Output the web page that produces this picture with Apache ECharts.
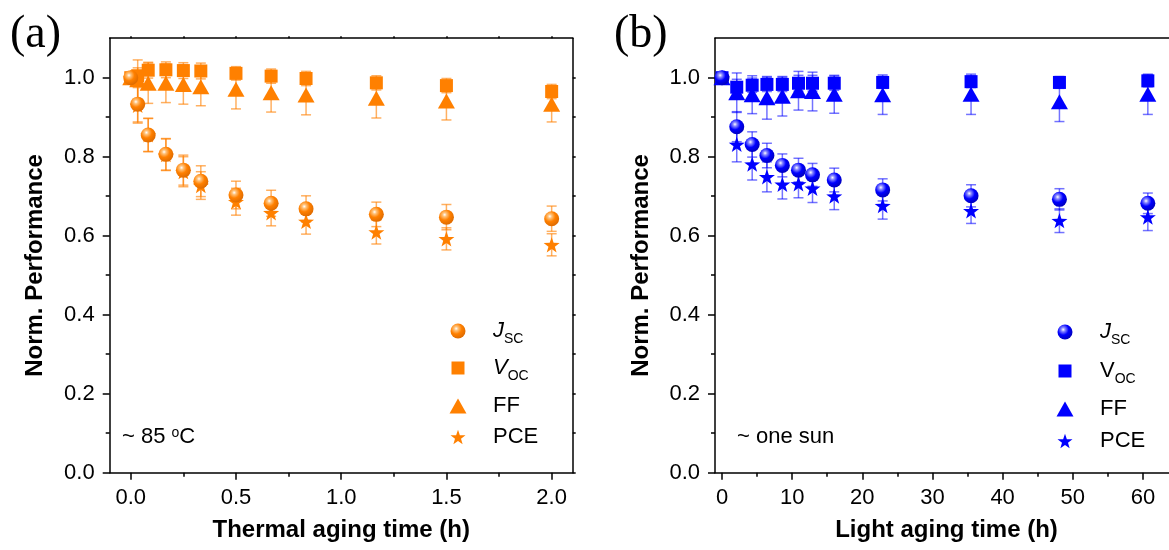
<!DOCTYPE html>
<html><head><meta charset="utf-8">
<script src="https://cdn.jsdelivr.net/npm/echarts@6/dist/echarts.min.js"></script>
<style>html,body{margin:0;padding:0;background:#fff}#c{width:1169px;height:550px}</style>
</head><body><div id="c"></div>
<script>
// ---------------- data ----------------
const thermalTime = [0, 0.033, 0.083, 0.167, 0.25, 0.333, 0.5, 0.667, 0.833, 1.167, 1.5, 2.0];
const thermalJsc = [1.0, 0.933, 0.855, 0.806, 0.766, 0.738, 0.703, 0.682, 0.668, 0.654, 0.647, 0.643];
const thermalJscErr = [0, 0.045, 0.042, 0.040, 0.038, 0.039, 0.035, 0.033, 0.033, 0.031, 0.032, 0.032];
const thermalVoc = [1.0, 1.005, 1.019, 1.020, 1.018, 1.017, 1.011, 1.004, 0.998, 0.987, 0.980, 0.965];
const thermalVocErr = [0, 0.02, 0.02, 0.02, 0.02, 0.02, 0.017, 0.018, 0.018, 0.018, 0.018, 0.018];
const thermalFF = [1.0, 0.995, 0.986, 0.986, 0.983, 0.977, 0.971, 0.962, 0.956, 0.948, 0.941, 0.933];
const thermalFFErr = [0, 0.05, 0.051, 0.049, 0.05, 0.048, 0.05, 0.049, 0.05, 0.05, 0.048, 0.045];
const thermalPCE = [1.0, 0.930, 0.855, 0.805, 0.762, 0.727, 0.686, 0.658, 0.636, 0.609, 0.592, 0.577];
const thermalPCEErr = [0, 0.045, 0.042, 0.040, 0.038, 0.035, 0.034, 0.033, 0.032, 0.030, 0.028, 0.028];

const lightTime = [0, 2.1, 4.3, 6.4, 8.6, 10.9, 12.9, 16, 22.9, 35.5, 48.1, 60.7];
const lightJsc = [1.0, 0.876, 0.831, 0.803, 0.778, 0.766, 0.754, 0.741, 0.716, 0.701, 0.692, 0.682];
const lightJscErr = [0, 0.038, 0.032, 0.031, 0.029, 0.030, 0.029, 0.030, 0.028, 0.028, 0.027, 0.026];
const lightVoc = [1.0, 0.976, 0.981, 0.983, 0.983, 0.986, 0.986, 0.986, 0.988, 0.990, 0.988, 0.992];
const lightVocErr = [0, 0.02, 0.018, 0.018, 0.018, 0.02, 0.02, 0.018, 0.015, 0.015, 0.015, 0.015];
const lightFF = [1.0, 0.962, 0.957, 0.949, 0.953, 0.967, 0.965, 0.958, 0.957, 0.958, 0.939, 0.958];
const lightFFErr = [0, 0.05, 0.048, 0.054, 0.05, 0.049, 0.049, 0.048, 0.05, 0.051, 0.05, 0.051];
const lightPCE = [1.0, 0.831, 0.781, 0.749, 0.730, 0.731, 0.720, 0.700, 0.676, 0.663, 0.638, 0.647];
const lightPCEErr = [0, 0.044, 0.040, 0.038, 0.037, 0.035, 0.036, 0.034, 0.034, 0.032, 0.030, 0.034];

const thermalXTicks = [0, 0.5, 1.0, 1.5, 2.0];
const thermalXMinor = [0.25, 0.75, 1.25, 1.75];
const thermalXTop = [0, 0.25, 0.5, 0.75, 1.0, 1.25, 1.5, 1.75, 2.0];
const lightXTicks = [0, 10, 20, 30, 40, 50, 60];
const lightXMinor = [5, 15, 25, 35, 45, 55];
const yTicks = [0, 0.2, 0.4, 0.6, 0.8, 1.0];
const yMinor = [0.1, 0.3, 0.5, 0.7, 0.9];
const yRightTicks = [0, 0.1, 0.2, 0.3, 0.4, 0.5, 0.6, 0.7, 0.8, 0.9, 1.0];

// ---------------- styles ----------------
const FONT = '"Liberation Sans", Arial, sans-serif';
const ORANGE = '#FF8000', ORANGE_ERR = 'rgba(255,128,0,0.62)';
const BLUE = '#0000FF', BLUE_ERR = 'rgba(0,0,255,0.55)';
const STAR = 'path://M50 0 L61.76 33.82 L97.55 34.55 L69.02 56.18 L79.39 90.45 L50 70 L20.61 90.45 L30.98 56.18 L2.45 34.55 L38.24 33.82 Z';

function sphere(base, light, dark) {
  return new echarts.graphic.RadialGradient(0.38, 0.34, 0.66, [
    {offset: 0, color: '#ffffff'}, {offset: 0.2, color: light},
    {offset: 0.55, color: base}, {offset: 1, color: dark}]);
}
const pair = (t, v) => t.map((x, i) => [x, v[i]]);
const triple = (t, v, e) => t.map((x, i) => [x, v[i], e[i]]);

function errRender(color) {
  return function (params, api) {
    const x = api.value(0), y = api.value(1), e = api.value(2);
    if (!e) return null;
    const lo = api.coord([x, y - e]), hi = api.coord([x, y + e]);
    const w = 5, st = {stroke: color, lineWidth: 1.5};
    return {type: 'group', children: [
      {type: 'line', shape: {x1: lo[0], y1: lo[1], x2: hi[0], y2: hi[1]}, style: st},
      {type: 'line', shape: {x1: hi[0] - w, y1: hi[1], x2: hi[0] + w, y2: hi[1]}, style: st},
      {type: 'line', shape: {x1: lo[0] - w, y1: lo[1], x2: lo[0] + w, y2: lo[1]}, style: st}
    ]};
  };
}

const series = [];
function addPanel(p, time, sets, color, errColor, gradient) {
  const xi = p * 3, yi = p * 3;
  sets.forEach(s => {
    series.push({type: 'custom', name: s.name + '_err', xAxisIndex: xi, yAxisIndex: yi, z: 1, silent: true,
      renderItem: errRender(errColor), encode: {x: 0, y: 1}, data: triple(time, s.v, s.e)});
  });
  const order = ['PCE', 'FF', 'Voc', 'Jsc'];
  order.forEach(k => {
    const s = sets.find(q => q.key === k);
    const base = {type: 'scatter', name: s.name, xAxisIndex: xi, yAxisIndex: yi, z: 3,
      data: pair(time, s.v), itemStyle: {color: color, opacity: 1}};
    if (k === 'Jsc') { base.symbol = 'circle'; base.symbolSize = 15; base.itemStyle.color = gradient; }
    if (k === 'Voc') { base.symbol = 'rect'; base.symbolSize = 13; }
    if (k === 'FF') { base.symbol = 'triangle'; base.symbolSize = [17, 15]; }
    if (k === 'PCE') { base.symbol = STAR; base.symbolSize = 16; base.symbolKeepAspect = true; }
    series.push(base);
  });
}
const orangeSphere = sphere(ORANGE, '#ffc27a', '#e06c00');
const blueSphere = sphere(BLUE, '#8a8aff', '#0000c0');
addPanel(0, thermalTime, [
  {key: 'Jsc', name: 'a_Jsc', v: thermalJsc, e: thermalJscErr},
  {key: 'Voc', name: 'a_Voc', v: thermalVoc, e: thermalVocErr},
  {key: 'FF', name: 'a_FF', v: thermalFF, e: thermalFFErr},
  {key: 'PCE', name: 'a_PCE', v: thermalPCE, e: thermalPCEErr}], ORANGE, ORANGE_ERR, orangeSphere);
addPanel(1, lightTime, [
  {key: 'Jsc', name: 'b_Jsc', v: lightJsc, e: lightJscErr},
  {key: 'Voc', name: 'b_Voc', v: lightVoc, e: lightVocErr},
  {key: 'FF', name: 'b_FF', v: lightFF, e: lightFFErr},
  {key: 'PCE', name: 'b_PCE', v: lightPCE, e: lightPCEErr}], BLUE, BLUE_ERR, blueSphere);

// ---------------- axes ----------------
const LINE = {color: '#000', width: 1.5};
const labelStyle = {fontFamily: FONT, fontSize: 22, color: '#000'};
const nameStyle = {fontFamily: FONT, fontSize: 24, fontWeight: 'bold', color: '#000'};
function xMajor(grid, min, max, ticks, name, fmt) {
  return {type: 'value', gridIndex: grid, position: 'bottom', min, max, name, nameLocation: 'middle', nameGap: 46,
    nameTextStyle: nameStyle, splitLine: {show: false}, axisLine: {show: true, onZero: false, lineStyle: LINE},
    axisTick: {show: true, inside: false, length: 7, lineStyle: LINE, customValues: ticks},
    axisLabel: {show: true, margin: 14, ...labelStyle, customValues: ticks, formatter: fmt}};
}
function xAux(grid, min, max, ticks, pos, len, showLine) {
  return {type: 'value', gridIndex: grid, position: pos, min, max, splitLine: {show: false},
    axisLine: {show: showLine, onZero: false, lineStyle: LINE},
    axisTick: {show: ticks.length > 0, inside: false, length: len, lineStyle: LINE, customValues: ticks.length ? ticks : undefined},
    axisLabel: {show: false}};
}
function yMajor(grid) {
  return {type: 'value', gridIndex: grid, position: 'left', min: 0, max: 1.1, name: 'Norm. Performance',
    nameLocation: 'middle', nameGap: 62, nameTextStyle: {...nameStyle, padding: [0, 20, 0, 0]},
    splitLine: {show: false}, axisLine: {show: true, onZero: false, lineStyle: LINE},
    axisTick: {show: true, inside: false, length: 7, lineStyle: LINE, customValues: yTicks},
    axisLabel: {show: true, margin: 15, ...labelStyle, customValues: yTicks, formatter: v => v.toFixed(1)}};
}
function yAux(grid, pos, ticks, len, showLine) {
  return {type: 'value', gridIndex: grid, position: pos, min: 0, max: 1.1, splitLine: {show: false},
    axisLine: {show: showLine, onZero: false, lineStyle: LINE},
    axisTick: {show: true, inside: false, length: len, lineStyle: LINE, customValues: ticks},
    axisLabel: {show: false}};
}

// ---------------- legends ----------------
const rich = {
  i: {fontFamily: FONT, fontSize: 22, fontStyle: 'italic', lineHeight: 30, color: '#000'},
  t: {fontFamily: FONT, fontSize: 22, lineHeight: 30, color: '#000'},
  s: {fontFamily: FONT, fontSize: 14, lineHeight: 15, verticalAlign: 'bottom', color: '#000'}
};
function legendItem(seriesName, label, cx, cy, w, h, textX) {
  const gap = textX - cx - w / 2 - 5;
  return {data: [seriesName], selectedMode: false, orient: 'vertical', padding: 0,
    left: cx - w / 2, top: cy - 15, itemWidth: w, itemHeight: h,
    formatter: '{g| }' + label,
    textStyle: {fontFamily: FONT, fontSize: 22, color: '#000', lineHeight: 30,
      rich: {...rich, g: {width: gap, lineHeight: 30, fontSize: 22}}}};
}
const legends = [
  legendItem('a_Jsc', '{i|J}{s|SC}', 458, 331, 15, 15, 493),
  legendItem('a_Voc', '{i|V}{s|OC}', 458, 368, 13, 13, 493),
  legendItem('a_FF', '{t|FF}', 458, 406, 17, 15, 493),
  legendItem('a_PCE', '{t|PCE}', 458, 437, 15, 15, 493),
  legendItem('b_Jsc', '{i|J}{s|SC}', 1065, 332, 15, 15, 1100),
  legendItem('b_Voc', '{t|V}{s|OC}', 1065, 371, 13, 13, 1100),
  legendItem('b_FF', '{t|FF}', 1065, 409, 17, 15, 1100),
  legendItem('b_PCE', '{t|PCE}', 1065, 441, 15, 15, 1100)
];

const option = {
  backgroundColor: '#fff',
  animation: false,
  grid: [
    {left: 109.7, top: 38.2, width: 463, height: 434.5, outerBoundsMode: 'none', containLabel: false},
    {left: 715, top: 38.2, width: 463, height: 434.5, outerBoundsMode: 'none', containLabel: false}
  ],
  xAxis: [
    xMajor(0, -0.1, 2.1, thermalXTicks, 'Thermal aging time (h)', v => v.toFixed(1)),
    xAux(0, -0.1, 2.1, thermalXMinor, 'bottom', 4, false),
    xAux(0, -0.1, 2.1, thermalXTop, 'top', 2, true),
    xMajor(1, -1, 65, lightXTicks, 'Light aging time (h)', v => String(v)),
    xAux(1, -1, 65, lightXMinor, 'bottom', 4, false),
    xAux(1, -1, 65, [], 'top', 0, true)
  ],
  yAxis: [
    yMajor(0), yAux(0, 'left', yMinor, 4, false), yAux(0, 'right', yRightTicks, 3, true),
    yMajor(1), yAux(1, 'left', yMinor, 4, false)
  ],
  legend: legends,
  graphic: [
    {type: 'text', x: 10, y: 35, style: {text: '(a)', fontFamily: '"Liberation Serif", "Times New Roman", serif', fontSize: 46, fill: '#000', verticalAlign: 'middle'}},
    {type: 'text', x: 614, y: 35, style: {text: '(b)', fontFamily: '"Liberation Serif", "Times New Roman", serif', fontSize: 46, fill: '#000', verticalAlign: 'middle'}},
    {type: 'text', x: 122, y: 437, style: {text: '~ 85 {sup|o}C', fontFamily: FONT, fontSize: 22, fill: '#000', verticalAlign: 'middle',
      rich: {sup: {fontFamily: FONT, fontSize: 14, verticalAlign: 'top', fill: '#000'}}}},
    {type: 'text', x: 737, y: 437, style: {text: '~ one sun', fontFamily: FONT, fontSize: 22, fill: '#000', verticalAlign: 'middle'}}
  ],
  series: series
};
const chart = echarts.init(document.getElementById('c'), null, {renderer: 'canvas'});
chart.setOption(option);
</script>
</body></html>
